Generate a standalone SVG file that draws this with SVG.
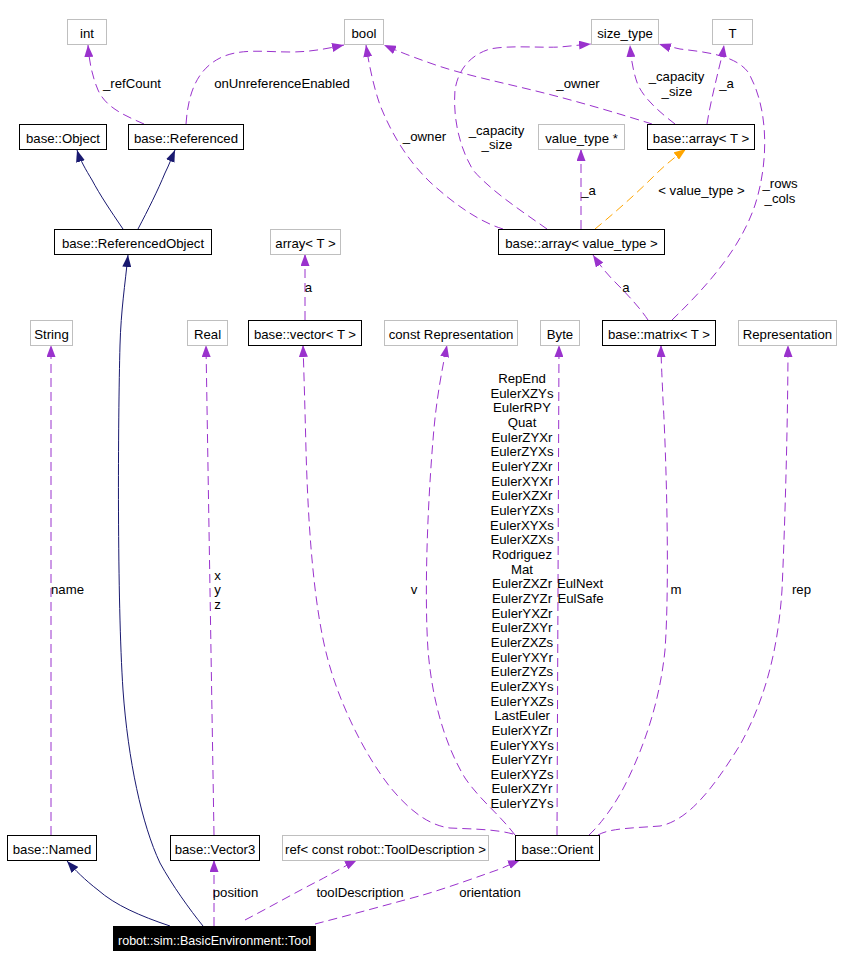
<svg xmlns="http://www.w3.org/2000/svg" width="843" height="968" viewBox="0 0 843 968">
<style>
text{font-family:"Liberation Sans",Arial,sans-serif;font-size:13.2px;fill:#000;text-anchor:middle}
.n rect{fill:#fff;stroke:#000;stroke-width:1}
.g rect{fill:#fff;stroke:#bfbfbf;stroke-width:1}
.e{fill:none;stroke-width:1}
.p{stroke:#9a32cd;stroke-dasharray:9,5}
.b{stroke:#191970}
.o{stroke:#ffa500;stroke-dasharray:9,5}
.lbl text{font-size:13.2px}
</style>
<defs>
<marker id="ap" viewBox="0 0 12 9" refX="12" refY="4.5" markerWidth="12" markerHeight="9" markerUnits="userSpaceOnUse" orient="auto"><path d="M0,0 L12,4.5 L0,9 z" fill="#9a32cd"/></marker>
<marker id="ab" viewBox="0 0 12 9" refX="12" refY="4.5" markerWidth="12" markerHeight="9" markerUnits="userSpaceOnUse" orient="auto"><path d="M0,0 L12,4.5 L0,9 z" fill="#191970"/></marker>
<marker id="ao" viewBox="0 0 12 9" refX="12" refY="4.5" markerWidth="12" markerHeight="9" markerUnits="userSpaceOnUse" orient="auto"><path d="M0,0 L12,4.5 L0,9 z" fill="#ffa500"/></marker>
</defs>
<rect width="843" height="968" fill="#fff"/>
<g id="connectors">
<path class="e b" d="M123,229 C110,210 100,195 92,180 C86,170 80,160 77,150" marker-end="url(#ab)"/>
<path class="e b" d="M138,229 C148,210 158,190 165,173 C169,165 172,157 175,150" marker-end="url(#ab)"/>
<path class="e p" d="M144,124 C126,116 106,108 98,90 C92,76 89,60 88,45" marker-end="url(#ap)"/>
<path class="e p" d="M186,124 C188,95 196,70 220,58 C240,48 265,52 290,52 C310,52 325,49 344,45" marker-end="url(#ap)"/>
<path class="e p" d="M503,229 C480,222 455,205 430,182 C405,158 390,130 380,105 C374,88 369,65 366,45" marker-end="url(#ap)"/>
<path class="e p" d="M652,124 C620,114 580,102 540,92 C500,82 460,74 430,63 C410,56 395,50 384,45" marker-end="url(#ap)"/>
<path class="e p" d="M547,229 C520,210 490,190 473,170 C458,145 453,115 455,90 C458,70 470,55 490,49 C510,45 540,48 560,47 C570,46 580,45 591,44" marker-end="url(#ap)"/>
<path class="e p" d="M675,124 C662,114 645,100 638,85 C633,72 631,58 630,45" marker-end="url(#ap)"/>
<path class="e p" d="M707,124 C710,105 715,85 719,68 C721,60 723,52 724,45" marker-end="url(#ap)"/>
<path class="e p" d="M581,229 L581,149" marker-end="url(#ap)"/>
<path class="e o" d="M595,229 C612,215 635,195 655,175 C665,165 675,157 686,149" marker-end="url(#ao)"/>
<path class="e p" d="M672,320 C705,288 740,250 755,205 C768,165 770,110 748,72 C735,55 705,52 680,49 C672,47 665,46 659,44" marker-end="url(#ap)"/>
<path class="e p" d="M648,320 C640,308 628,295 615,282 C606,273 599,264 593,255" marker-end="url(#ap)"/>
<path class="e p" d="M305,320 L305,254" marker-end="url(#ap)"/>
<path class="e p" d="M51,835 L51,345" marker-end="url(#ap)"/>
<path class="e p" d="M214,835 L206,345" marker-end="url(#ap)"/>
<path class="e p" d="M513,834 C495,829 470,829 450,828 C425,825 405,805 390,787 C365,755 340,705 328,660 C313,605 308,520 306,450 C305,410 304,375 303,345" marker-end="url(#ap)"/>
<path class="e p" d="M515,835 C500,815 480,800 465,778 C445,745 432,700 428,650 C424,590 428,500 433,440 C436,400 442,370 447,345" marker-end="url(#ap)"/>
<path class="e p" d="M557,835 L559,345" marker-end="url(#ap)"/>
<path class="e p" d="M589,835 C600,825 615,805 625,785 C645,745 660,700 665,650 C670,580 666,450 663,400 C662,375 661,360 661,345" marker-end="url(#ap)"/>
<path class="e p" d="M598,835 C610,828 635,828 660,826 C690,820 715,785 740,745 C765,700 778,650 782,590 C786,500 788,400 788,345" marker-end="url(#ap)"/>
<path class="e b" d="M170,926 C140,916 115,905 98,890 C85,880 75,870 67,861" marker-end="url(#ab)"/>
<path class="e b" d="M203,926 C190,910 172,885 160,863 C142,825 128,760 123,690 C117,600 118,420 120,345 C121,310 125,285 128,255" marker-end="url(#ab)"/>
<path class="e p" d="M214,926 L214,860" marker-end="url(#ap)"/>
<path class="e p" d="M245,920 C270,907 300,890 320,880 C335,872 345,866 357,860" marker-end="url(#ap)"/>
<path class="e p" d="M315,924 C350,915 390,904 423,895 C450,887 480,876 500,869 C507,866 513,863 520,860" marker-end="url(#ap)"/>
</g>
<g id="labels" class="lbl">
<text x="132" y="88">_refCount</text>
<text x="282" y="88">onUnreferenceEnabled</text>
<text x="578" y="88">_owner</text>
<text x="676.5" y="81">_capacity</text>
<text x="677" y="95.7">_size</text>
<text x="726.5" y="88">_a</text>
<text x="424.5" y="141">_owner</text>
<text x="496.5" y="134.5">_capacity</text>
<text x="497" y="149">_size</text>
<text x="588.5" y="195">_a</text>
<text x="701.5" y="195">&lt; value_type &gt;</text>
<text x="780" y="188">_rows</text>
<text x="780" y="202.7">_cols</text>
<text x="626" y="292">a</text>
<text x="308.5" y="292">a</text>
<text x="67.5" y="594">name</text>
<text x="217.5" y="579.6">x</text>
<text x="217.5" y="594.3">y</text>
<text x="217.5" y="608.9">z</text>
<text x="414" y="594">v</text>
<text x="522" y="383">RepEnd<tspan x="522" dy="14.66">EulerXZYs</tspan><tspan x="522" dy="14.66">EulerRPY</tspan><tspan x="522" dy="14.66">Quat</tspan><tspan x="522" dy="14.66">EulerZYXr</tspan><tspan x="522" dy="14.66">EulerZYXs</tspan><tspan x="522" dy="14.66">EulerYZXr</tspan><tspan x="522" dy="14.66">EulerXYXr</tspan><tspan x="522" dy="14.66">EulerXZXr</tspan><tspan x="522" dy="14.66">EulerYZXs</tspan><tspan x="522" dy="14.66">EulerXYXs</tspan><tspan x="522" dy="14.66">EulerXZXs</tspan><tspan x="522" dy="14.66">Rodriguez</tspan><tspan x="522" dy="14.66">Mat</tspan><tspan x="522" dy="14.66">EulerZXZr</tspan><tspan x="522" dy="14.66">EulerZYZr</tspan><tspan x="522" dy="14.66">EulerYXZr</tspan><tspan x="522" dy="14.66">EulerZXYr</tspan><tspan x="522" dy="14.66">EulerZXZs</tspan><tspan x="522" dy="14.66">EulerYXYr</tspan><tspan x="522" dy="14.66">EulerZYZs</tspan><tspan x="522" dy="14.66">EulerZXYs</tspan><tspan x="522" dy="14.66">EulerYXZs</tspan><tspan x="522" dy="14.66">LastEuler</tspan><tspan x="522" dy="14.66">EulerXYZr</tspan><tspan x="522" dy="14.66">EulerYXYs</tspan><tspan x="522" dy="14.66">EulerYZYr</tspan><tspan x="522" dy="14.66">EulerXYZs</tspan><tspan x="522" dy="14.66">EulerXZYr</tspan><tspan x="522" dy="14.66">EulerYZYs</tspan></text>
<text x="580" y="588.2">EulNext</text>
<text x="580.5" y="602.9">EulSafe</text>
<text x="676" y="594">m</text>
<text x="801.5" y="594">rep</text>
<text x="235.5" y="897">position</text>
<text x="360" y="897">toolDescription</text>
<text x="490" y="897">orientation</text>
</g>
<g id="n_int" class="g"><rect x="67.5" y="19.5" width="39" height="25"/><text x="87" y="38">int</text></g>
<g id="n_bool" class="g"><rect x="344.5" y="19.5" width="39" height="25"/><text x="364" y="38">bool</text></g>
<g id="n_size_type" class="g"><rect x="591.5" y="19.5" width="67" height="25"/><text x="625" y="38">size_type</text></g>
<g id="n_T" class="g"><rect x="712.5" y="19.5" width="40" height="25"/><text x="732.5" y="38">T</text></g>
<g id="n_Object" class="n"><rect x="19.5" y="124.5" width="87" height="25"/><text x="63" y="143">base::Object</text></g>
<g id="n_Referenced" class="n"><rect x="128.5" y="124.5" width="115" height="25"/><text x="186" y="143">base::Referenced</text></g>
<g id="n_value_type_ptr" class="g"><rect x="538.5" y="124.5" width="86" height="25"/><text x="581.5" y="143">value_type *</text></g>
<g id="n_array_T" class="n"><rect x="647.5" y="124.5" width="107" height="25"/><text x="701" y="143">base::array&lt; T &gt;</text></g>
<g id="n_ReferencedObject" class="n"><rect x="54.5" y="229.5" width="157" height="25"/><text x="133" y="248">base::ReferencedObject</text></g>
<g id="n_arrayT_plain" class="g"><rect x="270.5" y="229.5" width="70" height="25"/><text x="305.5" y="248">array&lt; T &gt;</text></g>
<g id="n_array_value_type" class="n"><rect x="498.5" y="229.5" width="166" height="25"/><text x="581.5" y="248">base::array&lt; value_type &gt;</text></g>
<g id="n_String" class="g"><rect x="30.5" y="320.5" width="42" height="25"/><text x="51.5" y="339">String</text></g>
<g id="n_Real" class="g"><rect x="187.5" y="320.5" width="40" height="25"/><text x="207.5" y="339">Real</text></g>
<g id="n_vector_T" class="n"><rect x="248.5" y="320.5" width="113" height="25"/><text x="305" y="339">base::vector&lt; T &gt;</text></g>
<g id="n_const_Representation" class="g"><rect x="384.5" y="320.5" width="133" height="25"/><text x="451" y="339">const Representation</text></g>
<g id="n_Byte" class="g"><rect x="540.5" y="320.5" width="39" height="25"/><text x="560" y="339">Byte</text></g>
<g id="n_matrix_T" class="n"><rect x="602.5" y="320.5" width="113" height="25"/><text x="659" y="339">base::matrix&lt; T &gt;</text></g>
<g id="n_Representation" class="g"><rect x="738.5" y="320.5" width="98" height="25"/><text x="787.5" y="339">Representation</text></g>
<g id="n_Named" class="n"><rect x="7.5" y="835.5" width="89" height="25"/><text x="52" y="854">base::Named</text></g>
<g id="n_Vector3" class="n"><rect x="170.5" y="835.5" width="89" height="25"/><text x="215" y="854">base::Vector3</text></g>
<g id="n_ref_ToolDescription" class="g"><rect x="282.5" y="835.5" width="206" height="25"/><text x="385.5" y="854">ref&lt; const robot::ToolDescription &gt;</text></g>
<g id="n_Orient" class="n"><rect x="515.5" y="835.5" width="84" height="25"/><text x="557.5" y="854">base::Orient</text></g>
<g id="n_Tool"><rect x="113" y="926" width="203" height="25" fill="#000"/><text x="214.5" y="944.5" textLength="193" lengthAdjust="spacingAndGlyphs" style="fill:#fff">robot::sim::BasicEnvironment::Tool</text></g>
</svg>
